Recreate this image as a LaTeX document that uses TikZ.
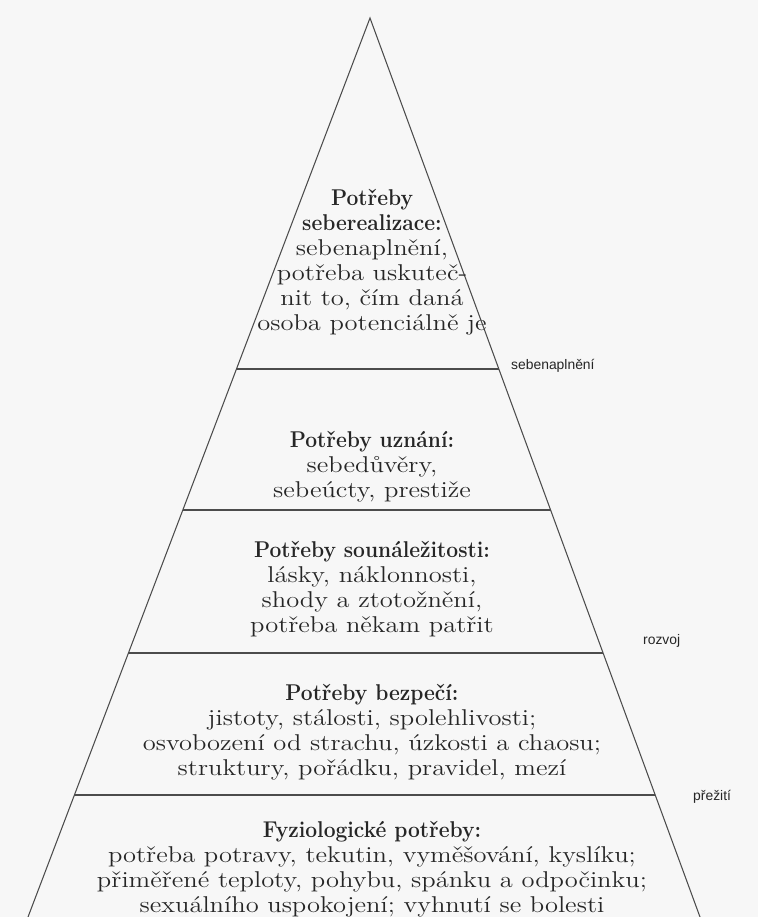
\documentclass[tikz,border=0pt]{standalone}
\usepackage{fontspec}
\setmainfont{Latin Modern Roman}[FakeStretch=1.16,BoldFeatures={FakeStretch=0.92}]
\setsansfont{Liberation Sans}
\usetikzlibrary{calc}

\begin{document}
\begin{tikzpicture}[x=0.02cm,y=-0.02cm]
  \fill[black!3] (0,0) rectangle (758,917);
  \useasboundingbox (0,0) rectangle (758,917);

  \tikzstyle{Level}=[align=center,text=black!85,font=\fontsize{13}{14.2}\selectfont]
  \tikzstyle{Side}=[anchor=west,text=black!85,font=\sffamily\fontsize{7.9}{9}\selectfont]
  \tikzstyle{Rule}=[black!70,line width=0.6pt]

  % outline
  \coordinate (top) at (370,18);
  \coordinate (bl) at (28,917);
  \coordinate (br) at (700,917);
  \draw[Rule] (bl) -- (top) -- (br);

  % levels
  \coordinate (l1) at (236.5,369);
  \coordinate (r1) at (498.8,369);
  \coordinate (l2) at (182.8,510);
  \coordinate (r2) at (550.6,510);
  \coordinate (l3) at (128.4,653);
  \coordinate (r3) at (603.0,653);
  \coordinate (l4) at (74.4,795);
  \coordinate (r4) at (655.2,795);
  \draw[Rule] (l1) -- (r1);
  \draw[Rule] (l2) -- (r2);
  \draw[Rule] (l3) -- (r3);
  \draw[Rule] (l4) -- (r4);

  \node[Level] (self) at (372,262) {\textbf{Potřeby}\\ \textbf{seberealizace:}\\ sebenaplnění,\\
    potřeba uskuteč-\\ nit to, čím daná\\ osoba potenciálně je};
  \node[Level] (esteem) at (372,467) {\textbf{Potřeby uznání:}\\ sebedůvěry,\\ sebeúcty, prestiže};
  \node[Level] (love) at (372,589) {\textbf{Potřeby sounáležitosti:}\\ lásky, náklonnosti,\\
    shody a ztotožnění,\\ potřeba někam patřit};
  \node[Level] (safety) at (372,732) {\textbf{Potřeby bezpečí:}\\ jistoty, stálosti, spolehlivosti;\\
    osvobození od strachu, úzkosti a chaosu;\\ struktury, pořádku, pravidel, mezí};
  \node[Level] (body) at (372,869) {\textbf{Fyziologické potřeby:}\\ potřeba potravy, tekutin, vyměšování, kyslíku;\\
    přiměřené teploty, pohybu, spánku a odpočinku;\\ sexuálního uspokojení; vyhnutí se bolesti};

  \node[Side] (fulfil) at (505,366) {sebenaplnění};
  \node[Side] (growth) at (637,641) {rozvoj};
  \node[Side] (survive) at (687,797) {přežití};
\end{tikzpicture}
\end{document}
